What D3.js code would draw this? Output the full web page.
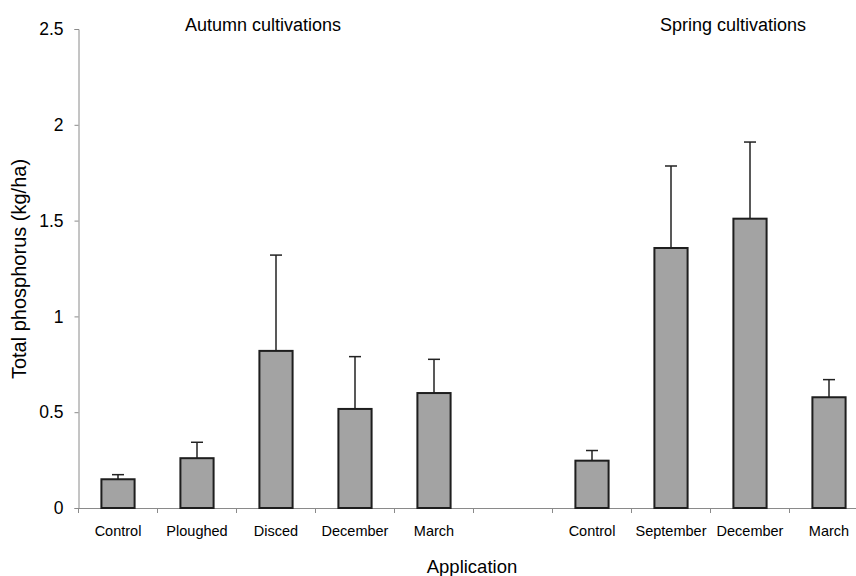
<!DOCTYPE html>
<html>
<head>
<meta charset="utf-8">
<script src="https://cdn.jsdelivr.net/npm/d3@7"></script>
<style>
	body { margin: 0; background: #fff; }
	text { font-family: "Liberation Sans", Arial, sans-serif; fill: #000; }
</style>
</head>
<body>
<div id="chart"></div>
<script>
// categories (empty slot separates the two groups)
let categories = ["Control", "Ploughed", "Disced", "December", "March", "", "Control", "September", "December", "March"];
let means = [0.15, 0.26, 0.82, 0.517, 0.60, null, 0.247, 1.357, 1.51, 0.578];
let upperErr = [0.174, 0.343, 1.32, 0.79, 0.776, null, 0.30, 1.785, 1.91, 0.67];
let yTicks = [0, 0.5, 1, 1.5, 2, 2.5];
let groupTitles = ["Autumn cultivations", "Spring cultivations"];

let W = 856, H = 576;
let svg = d3.select("#chart").append("svg")
	.attr("width", W)
	.attr("height", H);

//plot area
let plotLeft = 78.5, plotTop = 29, plotBottom = 508, bandW = 79;
let x = d3.scaleBand()
	.domain(d3.range(categories.length))
	.range([plotLeft, plotLeft + bandW * categories.length])
	.paddingInner(0.58)
	.paddingOuter(0.29);
let y = d3.scaleLinear().domain([0, 2.5]).range([plotBottom, plotTop]);

//y axis
let yAxis = svg.append("g")
	.attr("transform", `translate(${plotLeft}, 0)`)
	.call(d3.axisLeft(y).tickValues(yTicks).tickSize(4).tickPadding(11).tickFormat(d => d));
yAxis.selectAll("path, line").attr("stroke", "#8a8a8a");
yAxis.selectAll("text").style("font-size", "17.5px");

//x axis line + boundary ticks
let xg = svg.append("g");
xg.append("line")
	.attr("x1", plotLeft).attr("x2", W)
	.attr("y1", plotBottom + 0.5).attr("y2", plotBottom + 0.5)
	.attr("stroke", "#8a8a8a");
xg.selectAll("line.tick")
	.data(d3.range(categories.length + 1))
	.enter().append("line")
	.attr("class", "tick")
	.attr("x1", i => plotLeft + i * bandW).attr("x2", i => plotLeft + i * bandW)
	.attr("y1", plotBottom).attr("y2", plotBottom + 5)
	.attr("stroke", "#8a8a8a");
xg.selectAll("text")
	.data(categories)
	.enter().append("text")
	.attr("x", (d, i) => x(i) + x.bandwidth() / 2)
	.attr("y", plotBottom + 28)
	.attr("text-anchor", "middle")
	.style("font-size", "14.5px")
	.text(d => d);

//error bars
let idx = d3.range(categories.length).filter(i => means[i] != null);
let eb = svg.append("g").attr("stroke", "#222").attr("stroke-width", 1.5);
eb.selectAll("line.v")
	.data(idx).enter().append("line")
	.attr("class", "v")
	.attr("x1", i => x(i) + x.bandwidth() / 2).attr("x2", i => x(i) + x.bandwidth() / 2)
	.attr("y1", i => y(means[i])).attr("y2", i => y(upperErr[i]));
eb.selectAll("line.cap")
	.data(idx).enter().append("line")
	.attr("class", "cap")
	.attr("x1", i => x(i) + x.bandwidth() / 2 - 6).attr("x2", i => x(i) + x.bandwidth() / 2 + 6)
	.attr("y1", i => y(upperErr[i])).attr("y2", i => y(upperErr[i]));

//bars
svg.append("g").selectAll("rect")
	.data(idx).enter().append("rect")
	.attr("x", i => x(i))
	.attr("y", i => y(means[i]))
	.attr("width", x.bandwidth())
	.attr("height", i => y(0) - y(means[i]))
	.attr("fill", "#a3a3a3")
	.attr("stroke", "#1e1e1e")
	.attr("stroke-width", 2);

//group titles
svg.selectAll("text.grp")
	.data(groupTitles).enter().append("text")
	.attr("class", "grp")
	.attr("x", (d, i) => i === 0 ? 263 : 733)
	.attr("y", 31)
	.attr("text-anchor", "middle")
	.style("font-size", "18px")
	.text(d => d);

//axis labels
svg.append("text")
	.attr("transform", `translate(26, 269) rotate(-90)`)
	.attr("text-anchor", "middle")
	.style("font-size", "20px")
	.text("Total phosphorus (kg/ha)");
svg.append("text")
	.attr("x", 472)
	.attr("y", 573)
	.attr("text-anchor", "middle")
	.style("font-size", "18.5px")
	.text("Application");
</script>
</body>
</html>
